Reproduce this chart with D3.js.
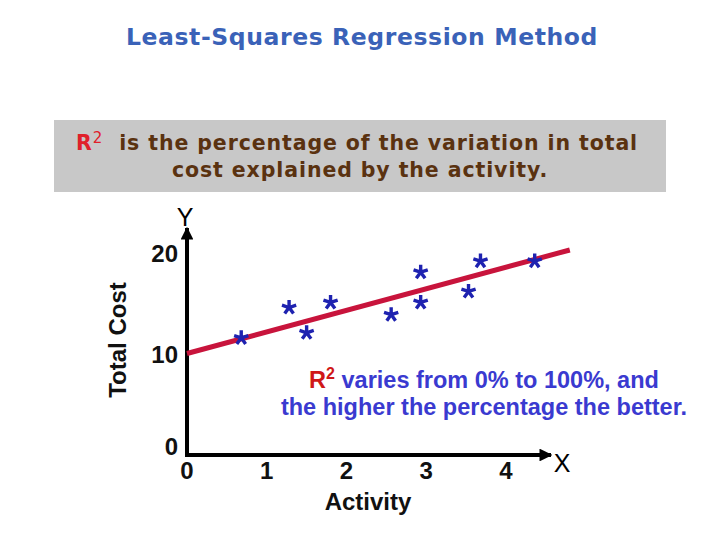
<!DOCTYPE html>
<html><head><meta charset="utf-8">
<script src="https://cdn.jsdelivr.net/npm/d3@7"></script>
<style>body{margin:0;background:#fff}svg{display:block}</style>
</head><body>
<script>
// Data
const pointX = [0.68, 1.28, 1.50, 1.80, 2.56, 2.93, 2.93, 3.53, 3.68, 4.36];
const pointY = [11.6, 14.6, 12.1, 15.1, 13.9, 15.1, 18.1, 16.2, 19.2, 19.2];
const lineX = [0, 4.8];
const lineY = [10.05, 20.3];
const xTicks = [0, 1, 2, 3, 4];
const yTicks = [0, 10, 20];

const W = 720, H = 540;
const svg = d3.select("body").append("svg").attr("width", W).attr("height", H);

// Title
svg.append("text").attr("x", 362).attr("y", 45).attr("text-anchor", "middle")
  .attr("font-family", "DejaVu Sans, Verdana, sans-serif").attr("font-weight", "bold")
  .attr("font-size", 23.5).attr("letter-spacing", 0.6).attr("fill", "#3a62b8").text("Least-Squares Regression Method");

// Gray box
svg.append("rect").attr("x", 54).attr("y", 120).attr("width", 612).attr("height", 72).attr("fill", "#c8c8c8");
const boxFont = "DejaVu Sans, Verdana, sans-serif";
const t1 = svg.append("text").attr("x", 357).attr("y", 150).attr("text-anchor", "middle")
  .attr("font-family", boxFont).attr("font-weight", "bold").attr("font-size", 20.5).attr("letter-spacing", 0.9).attr("fill", "#5a3210");
t1.append("tspan").attr("fill", "#e0202a").text("R");
t1.append("tspan").attr("fill", "#e0202a").attr("font-weight", "normal").attr("font-size", 15).attr("dy", -7).text("2");
t1.append("tspan").attr("dy", 7).text("\u00a0 is the percentage of the variation in total");
svg.append("text").attr("x", 360).attr("y", 177).attr("text-anchor", "middle")
  .attr("font-family", boxFont).attr("font-weight", "bold").attr("font-size", 20.5).attr("letter-spacing", 0.9).attr("fill", "#5a3210")
  .text("cost explained by the activity.");

// Scales
const x = d3.scaleLinear().domain([0, 4]).range([187, 506]);
const y = d3.scaleLinear().domain([0, 20]).range([455, 253]);

const g = svg.append("g");
const font = "Liberation Sans, Arial, sans-serif";

// Axes lines with arrows
const defs = svg.append("defs");
defs.append("marker").attr("id", "arr").attr("viewBox", "0 0 10 10").attr("refX", 9).attr("refY", 5)
  .attr("markerWidth", 3.2).attr("markerHeight", 3.2).attr("orient", "auto")
  .append("path").attr("d", "M0,0L10,5L0,10z").attr("fill", "#000");
g.append("line").attr("x1", x(0)).attr("y1", y(0)).attr("x2", x(0)).attr("y2", 228)
  .attr("stroke", "#000").attr("stroke-width", 4).attr("marker-end", "url(#arr)");
g.append("line").attr("x1", x(0) - 2).attr("y1", y(0)).attr("x2", 551).attr("y2", y(0))
  .attr("stroke", "#000").attr("stroke-width", 4).attr("marker-end", "url(#arr)");

// Tick labels
g.selectAll(".xt").data(xTicks).join("text").attr("class", "xt")
  .attr("x", d => x(d)).attr("y", 479).attr("text-anchor", "middle")
  .attr("font-family", font).attr("font-weight", "bold").attr("font-size", 24).attr("fill", "#111")
  .text(d => d);
g.selectAll(".yt").data(yTicks).join("text").attr("class", "yt")
  .attr("x", 178).attr("y", d => d === 0 ? y(d) : y(d) + 9)
  .attr("text-anchor", "end")
  .attr("font-family", font).attr("font-weight", "bold").attr("font-size", 24).attr("fill", "#111")
  .text(d => d);

// Axis titles
g.append("text").attr("x", 185).attr("y", 226).attr("text-anchor", "middle")
  .attr("font-family", font).attr("font-size", 25).attr("fill", "#000").text("Y");
g.append("text").attr("x", 562).attr("y", 472).attr("text-anchor", "middle")
  .attr("font-family", font).attr("font-size", 25).attr("fill", "#000").text("X");
g.append("text").attr("x", 368).attr("y", 510).attr("text-anchor", "middle")
  .attr("font-family", font).attr("font-weight", "bold").attr("font-size", 24).attr("fill", "#111").text("Activity");
g.append("text").attr("transform", "translate(126,340) rotate(-90)").attr("text-anchor", "middle")
  .attr("font-family", font).attr("font-weight", "bold").attr("font-size", 24).attr("fill", "#111").text("Total Cost");

// Regression line
g.append("line").attr("x1", x(lineX[0])).attr("y1", y(lineY[0])).attr("x2", x(lineX[1])).attr("y2", y(lineY[1]))
  .attr("stroke", "#c8143c").attr("stroke-width", 5).attr("stroke-linecap", "butt");

// Asterisks (5-arm)
const star5 = {
  draw(ctx, size) {
    const r = Math.sqrt(size);
    for (let i = 0; i < 5; i++) {
      const a = -Math.PI / 2 + i * 2 * Math.PI / 5;
      ctx.moveTo(0, 0);
      ctx.lineTo(r * Math.cos(a), r * Math.sin(a));
    }
  }
};
const pts = pointX.map((v, i) => [v, pointY[i]]);
g.selectAll(".pt").data(pts).join("path").attr("class", "pt")
  .attr("transform", d => `translate(${x(d[0])},${y(d[1])})`)
  .attr("d", d3.symbol().type(star5).size(56))
  .attr("fill", "none").attr("stroke", "#1e22b0").attr("stroke-width", 3.4);

// Annotation
const a1 = g.append("text").attr("x", 484).attr("y", 388).attr("text-anchor", "middle")
  .attr("font-family", font).attr("font-weight", "bold").attr("font-size", 23.5).attr("fill", "#3a3ad0");
a1.append("tspan").attr("fill", "#d01818").text("R");
a1.append("tspan").attr("fill", "#d01818").attr("font-size", 16).attr("dy", -9).text("2");
a1.append("tspan").attr("dy", 9).text(" varies from 0% to 100%, and");
g.append("text").attr("x", 484).attr("y", 415).attr("text-anchor", "middle")
  .attr("font-family", font).attr("font-weight", "bold").attr("font-size", 23.5).attr("fill", "#3a3ad0")
  .text("the higher the percentage the better.");
</script>
</body></html>
